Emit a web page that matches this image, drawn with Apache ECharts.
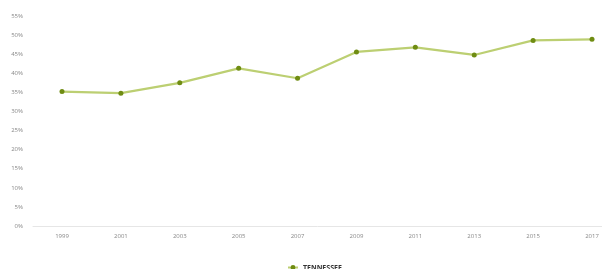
<!DOCTYPE html>
<html>
<head>
<meta charset="utf-8">
<script src="https://cdn.jsdelivr.net/npm/echarts@6/dist/echarts.min.js"></script>
<style>
  html, body { margin: 0; padding: 0; background: #fff; }
  #main { width: 602px; height: 269px; }
</style>
</head>
<body>
<div id="main"></div>
<script>
// years on the x axis
var years = ['1999', '2001', '2003', '2005', '2007', '2009', '2011', '2013', '2015', '2017'];
// share in percent
var tennessee = [35.2, 34.8, 37.5, 41.3, 38.7, 45.6, 46.8, 44.8, 48.6, 48.9];
var seriesName = 'TENNESSEE';

var myChart = echarts.init(document.getElementById('main'));
var option = {
  animation: false,
  grid: [
    // plotting area
    { left: 62, top: 16, right: 10, height: 210 },
    // just for the long base line under the plot
    { left: 33, top: 16, right: 0, height: 210 }
  ],
  legend: {
    data: [seriesName],
    left: 282,
    top: 259,
    itemWidth: 10,
    itemHeight: 6,
    itemGap: 4,
    textStyle: {
      fontSize: 7,
      fontWeight: 'bold',
      color: '#333',
      fontFamily: 'Open Sans'
    }
  },
  xAxis: [
    {
      type: 'category',
      gridIndex: 0,
      boundaryGap: false,
      data: years,
      axisLine: { show: false },
      axisTick: { show: false },
      axisLabel: {
        fontSize: 6,
        color: '#888',
        margin: 7,
        fontFamily: 'Open Sans'
      }
    },
    {
      type: 'value',
      gridIndex: 1,
      axisLine: { show: true, lineStyle: { color: '#e6e6e6', width: 1 } },
      axisTick: { show: false },
      axisLabel: { show: false },
      splitLine: { show: false }
    }
  ],
  yAxis: [
    {
      type: 'value',
      gridIndex: 0,
      min: 0,
      max: 55,
      interval: 5,
      splitLine: { show: false },
      axisLine: { show: false },
      axisTick: { show: false },
      axisLabel: {
        formatter: '{value}%',
        fontSize: 6,
        color: '#888',
        margin: 39,
        fontFamily: 'Open Sans'
      }
    },
    {
      type: 'value',
      gridIndex: 1,
      show: false
    }
  ],
  series: [
    {
      name: seriesName,
      type: 'line',
      xAxisIndex: 0,
      yAxisIndex: 0,
      data: tennessee,
      symbol: 'circle',
      symbolSize: 5,
      itemStyle: { color: '#6f8c12' },
      lineStyle: { color: '#bccf72', width: 2.2 }
    }
  ]
};
myChart.setOption(option, true);
</script>
</body>
</html>
